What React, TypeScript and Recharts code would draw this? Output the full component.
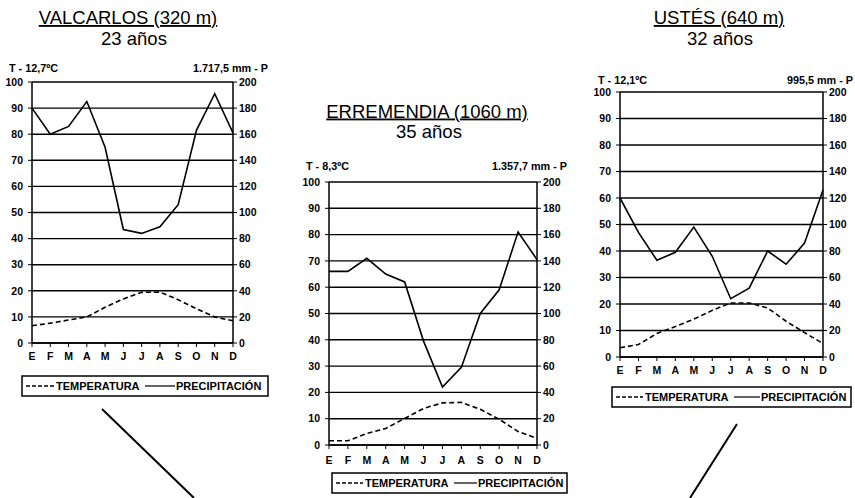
import { LineChart, Line, XAxis, YAxis, CartesianGrid } from "recharts";

const MESES = ["E", "F", "M", "A", "M", "J", "J", "A", "S", "O", "N", "D"];
const TICKS_T = [0, 10, 20, 30, 40, 50, 60, 70, 80, 90, 100];
const TICKS_P = [0, 20, 40, 60, 80, 100, 120, 140, 160, 180, 200];

// temperatura media (ºC) y precipitación (mm) por mes
const VALCARLOS_T = [6.6, 7.6, 8.8, 10.0, 13.7, 16.9, 19.4, 19.5, 16.6, 13.1, 10.0, 8.5];
const VALCARLOS_P = [180, 160, 166, 185, 150, 87, 84, 89, 106, 163, 191, 161];
const ERREMENDIA_T = [1.6, 1.6, 4.4, 6.3, 10.1, 13.9, 16.0, 16.2, 13.6, 9.8, 5.1, 2.5];
const ERREMENDIA_P = [132, 132, 142, 130, 124, 79, 44, 59, 100, 118, 162, 141];
const USTES_T = [3.5, 4.7, 8.9, 11.5, 14.3, 17.6, 20.4, 20.4, 18.5, 13.5, 9.2, 5.1];
const USTES_P = [120, 94, 73, 79, 98, 76, 44, 52, 80, 70, 86, 126];

const FONT = "'Liberation Sans', Arial, sans-serif";

const build = (temp: number[], prec: number[]) =>
  MESES.map((m, i) => ({ i, mes: m, t: temp[i], p: prec[i] }));

interface ClimoProps {
  x: number; // left edge of plot
  y: number; // top edge of plot
  w: number;
  h: number;
  temp: number[];
  prec: number[];
  monthGap: number;
}

function Climograma({ x, y, w, h, temp, prec, monthGap }: ClimoProps) {
  const data = build(temp, prec);
  const tick = { fill: "#000", fontSize: 10.5, fontWeight: 700, fontFamily: FONT };
  const axisLine = { stroke: "#000", strokeWidth: 1.5 };
  return (
    <div style={{ position: "absolute", left: x - 30, top: y - 10 }}>
      <LineChart width={w + 60} height={h + 40} data={data}
        margin={{ top: 10, right: 0, bottom: 0, left: 0 }}>
        <CartesianGrid yAxisId="left" vertical={false} stroke="#000" strokeWidth={1.4} />
        <XAxis dataKey="i" tickFormatter={(v) => MESES[v]} interval={0} height={30}
          tick={tick} axisLine={axisLine} tickLine={{ stroke: "#000" }}
          tickSize={4} tickMargin={monthGap} />
        <YAxis yAxisId="left" domain={[0, 100]} ticks={TICKS_T} interval={0} width={30}
          tick={tick} axisLine={axisLine} tickLine={{ stroke: "#000" }}
          tickSize={4} tickMargin={5} />
        <YAxis yAxisId="right" orientation="right" domain={[0, 200]} ticks={TICKS_P}
          interval={0} width={30} tick={{ ...tick, textAnchor: "start" }}
          axisLine={axisLine} tickLine={{ stroke: "#000" }} tickSize={4} tickMargin={2} />
        <Line yAxisId="left" type="linear" dataKey="t" stroke="#000" strokeWidth={1.6}
          strokeDasharray="5 3" dot={false} isAnimationActive={false} />
        <Line yAxisId="right" type="linear" dataKey="p" stroke="#000" strokeWidth={1.6}
          dot={false} isAnimationActive={false} />
      </LineChart>
    </div>
  );
}

function Leyenda({ x, y, w, tx, px }: { x: number; y: number; w: number; tx: number; px: number }) {
  const cy = y + 10;
  return (
    <g>
      <rect x={x} y={y} width={w} height={20} fill="none" stroke="#000" strokeWidth={1.5} />
      <line x1={x + 4} x2={tx - 2} y1={cy} y2={cy} stroke="#000" strokeWidth={1.6} strokeDasharray="4 2" />
      <text x={tx} y={cy + 4} fontSize={11} fontWeight={700}>TEMPERATURA</text>
      <line x1={tx + 89} x2={px - 1} y1={cy} y2={cy} stroke="#000" strokeWidth={1.2} />
      <text x={px} y={cy + 4} fontSize={11} fontWeight={700}>PRECIPITACIÓN</text>
    </g>
  );
}

export default function App() {
  return (
    <div style={{ position: "absolute", left: 0, top: 0, width: 855, height: 498, background: "#fff", fontFamily: FONT }}>
      <Climograma x={32} y={82} w={201} h={261} temp={VALCARLOS_T} prec={VALCARLOS_P} monthGap={6} />
      <Climograma x={329} y={182} w={208} h={263} temp={ERREMENDIA_T} prec={ERREMENDIA_P} monthGap={8} />
      <Climograma x={620} y={92} w={203} h={265} temp={USTES_T} prec={USTES_P} monthGap={6} />
      <svg width={855} height={498} style={{ position: "absolute", left: 0, top: 0, pointerEvents: "none" }}
        fontFamily={FONT}>
        <text x={128} y={24} fontSize={18.5} textAnchor="middle" textDecoration="underline">VALCARLOS (320 m)</text>
        <text x={134} y={45} fontSize={18.5} textAnchor="middle">23 años</text>
        <text x={427} y={117.5} fontSize={18.5} textAnchor="middle" textDecoration="underline">ERREMENDIA (1060 m)</text>
        <text x={429} y={138} fontSize={18.5} textAnchor="middle">35 años</text>
        <text x={719} y={24} fontSize={18.5} textAnchor="middle" textDecoration="underline">USTÉS (640 m)</text>
        <text x={720} y={45} fontSize={18.5} textAnchor="middle">32 años</text>

        <text x={9} y={72} fontSize={10.8} fontWeight={700}>T - 12,7ºC</text>
        <text x={268} y={72} fontSize={10.8} fontWeight={700} textAnchor="end">1.717,5 mm - P</text>
        <text x={306} y={170} fontSize={10.8} fontWeight={700}>T - 8,3ºC</text>
        <text x={567} y={170} fontSize={10.8} fontWeight={700} textAnchor="end">1.357,7 mm - P</text>
        <text x={598} y={84} fontSize={10.8} fontWeight={700}>T - 12,1ºC</text>
        <text x={853} y={84} fontSize={10.8} fontWeight={700} textAnchor="end">995,5 mm - P</text>

        <Leyenda x={22} y={376} w={246} tx={56} px={176} />
        <Leyenda x={332} y={473} w={235} tx={365} px={478} />
        <Leyenda x={612} y={387} w={239} tx={645} px={761} />

        <line x1={102} y1={409} x2={194} y2={498} stroke="#000" strokeWidth={2} />
        <line x1={737} y1={424} x2={690} y2={498} stroke="#000" strokeWidth={2} />
      </svg>
    </div>
  );
}
